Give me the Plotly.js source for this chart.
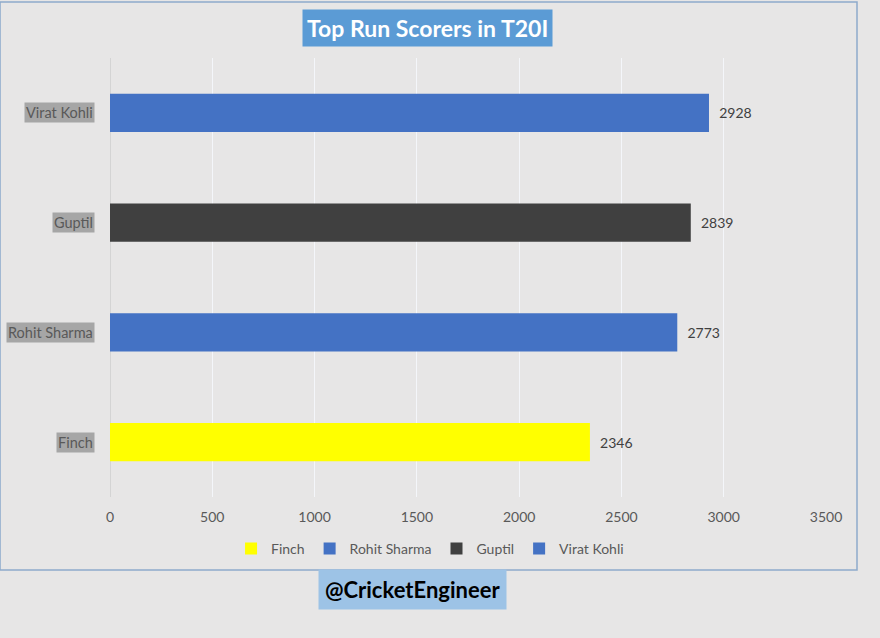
<!DOCTYPE html>
<html>
<head>
<meta charset="utf-8">
<script src="https://cdn.plot.ly/plotly-3.0.1.min.js"></script>
<style>
  html, body { margin: 0; padding: 0; background: #e7e6e6; }
  #chart { width: 880px; height: 638px; }
</style>
</head>
<body>
<div id="chart"></div>
<script>
// players, bottom to top
const players = ['Finch', 'Rohit Sharma', 'Guptil', 'Virat Kohli'];
const runs = [2346, 2773, 2839, 2928];
const barColors = ['#ffff00', '#4472c4', '#404040', '#4472c4'];
const xTicks = [0, 500, 1000, 1500, 2000, 2500, 3000, 3500];

const font = 'Lato, "Open Sans", sans-serif';

let traces = [];
for (let i = 0; i < players.length; i++) {
  traces.push({
    type: 'bar',
    orientation: 'h',
    name: players[i],
    x: [runs[i]],
    y: [players[i]],
    width: 0.35,
    marker: { color: barColors[i] },
    // small gap between bar end and label, like the original
    text: ['\u00a0\u00a0' + runs[i]],
    textposition: 'outside',
    textfont: { family: font, size: 14, color: '#404040' },
    cliponaxis: false,
    hoverinfo: 'x+y'
  });
}

// y labels with the grey highlight behind them
let annotations = players.map(p => ({
  xref: 'paper', yref: 'y',
  x: -0.021, y: p,
  xanchor: 'right', yanchor: 'middle',
  text: p,
  showarrow: false,
  bgcolor: '#a6a6a6',
  borderpad: 1,
  font: { family: font, size: 14.5, color: '#595959' }
}));

// title box
annotations.push({
  xref: 'paper', yref: 'paper',
  x: 0.444, y: 1.068,
  xanchor: 'center', yanchor: 'middle',
  text: '<b>Top Run Scorers in T20I</b>',
  showarrow: false,
  bgcolor: '#5b9bd5',
  borderpad: 4,
  font: { family: font, size: 23, color: '#ffffff' }
});

// watermark
annotations.push({
  xref: 'paper', yref: 'paper',
  x: 0.4218, y: -0.2118,
  xanchor: 'center', yanchor: 'middle',
  text: '<b>@CricketEngineer</b>',
  showarrow: false,
  bgcolor: '#9dc3e6',
  borderpad: 6,
  font: { family: font, size: 22, color: '#000000' }
});

const layout = {
  width: 880,
  height: 638,
  margin: { l: 110, r: 54, t: 58, b: 141 },
  paper_bgcolor: '#e7e6e6',
  plot_bgcolor: '#e7e6e6',
  barmode: 'overlay',
  showlegend: true,
  legend: {
    orientation: 'h',
    x: 0.447, y: -0.118,
    xanchor: 'center', yanchor: 'middle',
    font: { family: font, size: 14, color: '#595959' },
    bgcolor: 'rgba(0,0,0,0)',
    itemwidth: 30
  },
  xaxis: {
    range: [0, 3500],
    tickvals: xTicks,
    ticktext: xTicks.map(String),
    showgrid: true,
    gridcolor: '#f4f6fa',
    gridwidth: 1,
    zeroline: true,
    zerolinecolor: '#d4d4d4',
    showline: false,
    ticks: '',
    ticklabelstandoff: 10,
    tickfont: { family: font, size: 14, color: '#595959' },
    fixedrange: true
  },
  yaxis: {
    type: 'category',
    categoryorder: 'array',
    categoryarray: players,
    showticklabels: false,
    showgrid: false,
    zeroline: false,
    showline: false,
    ticks: '',
    fixedrange: true
  },
  annotations: annotations,
  shapes: [{
    type: 'rect',
    xref: 'paper', yref: 'paper',
    x0: -0.1536, x1: 1.0433,
    y0: -0.1663, y1: 1.1276,
    line: { color: '#8eaacb', width: 1.5 },
    fillcolor: 'rgba(0,0,0,0)',
    layer: 'below'
  }]
};

Plotly.newPlot('chart', traces, layout, { displayModeBar: false });
</script>
</body>
</html>
